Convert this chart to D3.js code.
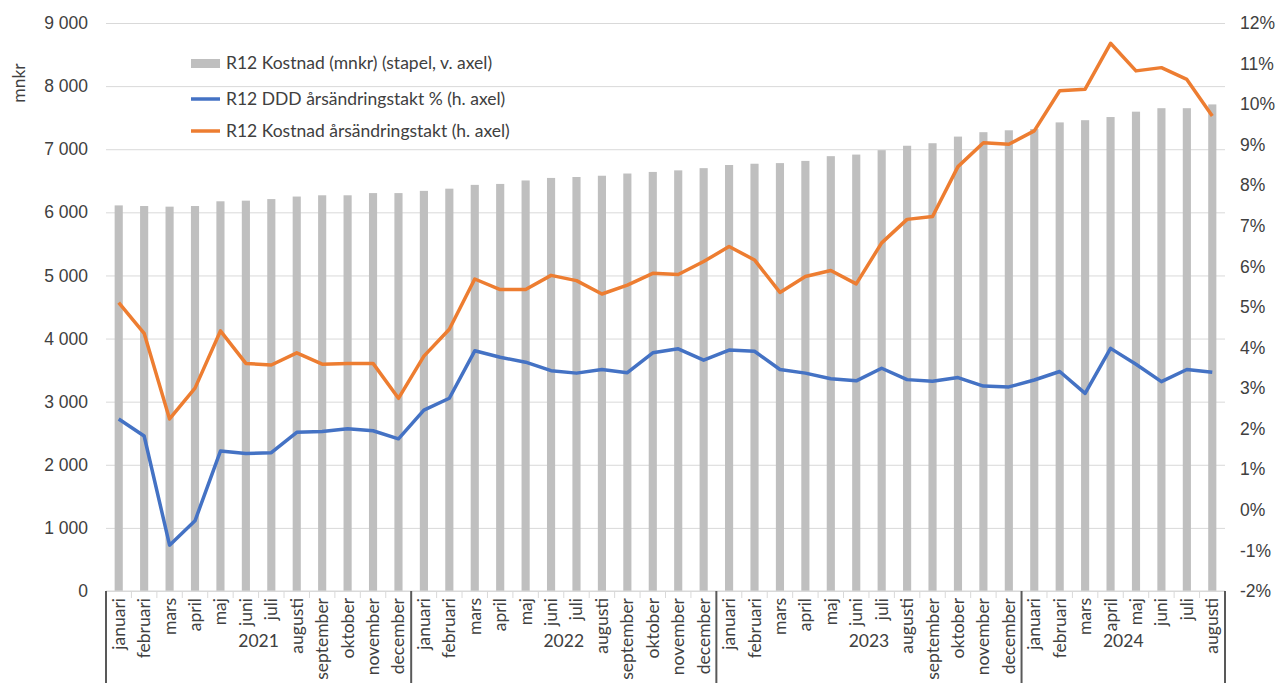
<!DOCTYPE html>
<html>
<head>
<meta charset="utf-8">
<script src="https://cdn.jsdelivr.net/npm/d3@7"></script>
<style>
  body { margin: 0; background: #fff; }
  svg { display: block; font-family: Lato, "Open Sans", sans-serif; }
</style>
</head>
<body>
<div id="chart"></div>
<script>
// data
const years = ["2021", "2022", "2023", "2024"];
const monthNames = ["januari", "februari", "mars", "april", "maj", "juni", "juli", "augusti",
  "september", "oktober", "november", "december"];
const monthsPerYear = [12, 12, 12, 8];

const kostnad = [6110, 6100, 6090, 6100, 6175, 6185, 6210, 6250, 6270, 6270, 6305, 6305,
  6340, 6375, 6435, 6450, 6505, 6545, 6560, 6580, 6615, 6640, 6665, 6700,
  6750, 6770, 6780, 6815, 6890, 6915, 6985, 7055, 7095, 7200, 7270, 7300,
  7320, 7425, 7460, 7510, 7595, 7650, 7650, 7710];

const dddTakt = [2.24, 1.82, -0.87, -0.27, 1.45, 1.39, 1.41, 1.91, 1.93, 2.0, 1.95, 1.75,
  2.46, 2.75, 3.92, 3.76, 3.64, 3.43, 3.37, 3.46, 3.38, 3.87, 3.97, 3.69,
  3.94, 3.91, 3.46, 3.37, 3.23, 3.18, 3.49, 3.21, 3.17, 3.26, 3.05, 3.03,
  3.2, 3.41, 2.87, 3.98, 3.59, 3.16, 3.46, 3.39];

const kostnadTakt = [5.11, 4.35, 2.24, 3.0, 4.41, 3.61, 3.57, 3.87, 3.59, 3.61, 3.61, 2.75,
  3.79, 4.45, 5.69, 5.43, 5.43, 5.78, 5.65, 5.32, 5.54, 5.83, 5.8, 6.12,
  6.49, 6.16, 5.36, 5.75, 5.9, 5.57, 6.58, 7.16, 7.23, 8.46, 9.05, 9.01,
  9.34, 10.33, 10.37, 11.5, 10.82, 10.9, 10.61, 9.71];

const leftTicks = [0, 1000, 2000, 3000, 4000, 5000, 6000, 7000, 8000, 9000];
const rightTicks = [-2, -1, 0, 1, 2, 3, 4, 5, 6, 7, 8, 9, 10, 11, 12];

const legendLabels = ["R12 Kostnad (mnkr) (stapel, v. axel)",
  "R12 DDD årsändringstakt % (h. axel)",
  "R12 Kostnad årsändringstakt (h. axel)"];

// build month list
const months = [];
years.forEach((yr, yi) => {
  for (let m = 0; m < monthsPerYear[yi]; m++) {
    months.push({ key: yr + "-" + m, year: yr, label: monthNames[m], i: months.length });
  }
});
months.forEach((d, i) => {
  d.kostnad = kostnad[i];
  d.ddd = dddTakt[i];
  d.ktakt = kostnadTakt[i];
});

const W = 1276, H = 683;
const margin = { top: 23, right: 51, bottom: 92, left: 106 };
const width = W - margin.left - margin.right;
const height = H - margin.top - margin.bottom;

const txtColor = "#404040";
const gridColor = "#d9d9d9";
const fs = "17.5px";

const svg = d3.select("#chart")
  .append("svg")
  .attr("width", W)
  .attr("height", H);

const g = svg.append("g")
  .attr("transform", `translate(${margin.left},${margin.top})`);

const x = d3.scaleBand()
  .domain(months.map(d => d.key))
  .range([0, width])
  .paddingInner(0.68)
  .paddingOuter(0.34);

const y = d3.scaleLinear()
  .domain([0, 9000])
  .range([height, 0]);

const y2 = d3.scaleLinear()
  .domain([-2, 12])
  .range([height, 0]);

const fmtLeft = v => d3.format(",")(v).replace(/,/g, " ");

// gridlines + left axis
const yAxis = g.append("g")
  .call(d3.axisLeft(y).tickValues(leftTicks).tickSize(-width).tickFormat(fmtLeft).tickPadding(18));
yAxis.select(".domain").remove();
yAxis.selectAll(".tick line").attr("stroke", gridColor);
yAxis.selectAll(".tick text")
  .attr("fill", txtColor)
  .style("font-size", fs);

// right axis
const yAxis2 = g.append("g")
  .attr("transform", `translate(${width},0)`)
  .call(d3.axisRight(y2).tickValues(rightTicks).tickSize(0).tickFormat(d => d + "%").tickPadding(15));
yAxis2.select(".domain").remove();
yAxis2.selectAll(".tick text")
  .attr("fill", txtColor)
  .style("font-size", fs);

// axis title
svg.append("text")
  .attr("transform", "rotate(-90)")
  .attr("x", -83)
  .attr("y", 25)
  .attr("text-anchor", "middle")
  .attr("fill", txtColor)
  .style("font-size", fs)
  .text("mnkr");

// bars
g.selectAll(".bar")
  .data(months)
  .enter().append("rect")
  .attr("class", "bar")
  .attr("x", d => x(d.key))
  .attr("y", d => y(d.kostnad))
  .attr("width", x.bandwidth())
  .attr("height", d => height - y(d.kostnad))
  .attr("fill", "#bfbfbf");

// lines
const step = x.step();
const cx = d => x(d.key) + x.bandwidth() / 2;

const lineDdd = d3.line().x(cx).y(d => y2(d.ddd));
const lineKt = d3.line().x(cx).y(d => y2(d.ktakt));

g.append("path")
  .datum(months)
  .attr("fill", "none")
  .attr("stroke", "#4472c4")
  .attr("stroke-width", 3.5)
  .attr("stroke-linejoin", "round")
  .attr("d", lineDdd);

g.append("path")
  .datum(months)
  .attr("fill", "none")
  .attr("stroke", "#ed7d31")
  .attr("stroke-width", 3.5)
  .attr("stroke-linejoin", "round")
  .attr("d", lineKt);

// x axis: month ticks, labels, year groups
const xa = g.append("g").attr("transform", `translate(0,${height})`);

xa.append("line")
  .attr("x1", 0).attr("x2", width)
  .attr("y1", 0).attr("y2", 0)
  .attr("stroke", gridColor);

xa.selectAll(".mtick")
  .data(months.slice(1))
  .enter().append("line")
  .attr("x1", d => x(d.key) - (step - x.bandwidth()) / 2)
  .attr("x2", d => x(d.key) - (step - x.bandwidth()) / 2)
  .attr("y1", 0).attr("y2", 7)
  .attr("stroke", gridColor);

xa.selectAll(".mlabel")
  .data(months)
  .enter().append("text")
  .attr("transform", d => `translate(${cx(d) + 6},7) rotate(-90)`)
  .attr("text-anchor", "end")
  .attr("fill", txtColor)
  .style("font-size", fs)
  .text(d => d.label);

// year separators and labels
const yearInfo = years.map(yr => {
  const ms = months.filter(d => d.year === yr);
  const x0 = x(ms[0].key) - (step - x.bandwidth()) / 2;
  const x1 = x(ms[ms.length - 1].key) + x.bandwidth() + (step - x.bandwidth()) / 2;
  return { year: yr, x0, x1 };
});

const seps = [yearInfo[0].x0].concat(yearInfo.map(d => d.x1));
xa.selectAll(".ysep")
  .data(seps)
  .enter().append("line")
  .attr("x1", d => d).attr("x2", d => d)
  .attr("y1", 0).attr("y2", 92)
  .attr("stroke", "#595959")
  .attr("stroke-width", 2);

xa.selectAll(".ylabel")
  .data(yearInfo)
  .enter().append("text")
  .attr("x", d => (d.x0 + d.x1) / 2)
  .attr("y", 56)
  .attr("text-anchor", "middle")
  .attr("fill", txtColor)
  .style("font-size", fs)
  .text(d => d.year);

// legend
const legend = svg.append("g").attr("transform", "translate(191,0)");
const legendY = [63, 99, 131];
const legendColors = ["#bfbfbf", "#4472c4", "#ed7d31"];

legendLabels.forEach((lab, i) => {
  const row = legend.append("g").attr("transform", `translate(0,${legendY[i]})`);
  if (i === 0) {
    row.append("rect")
      .attr("x", 0).attr("y", -4)
      .attr("width", 29).attr("height", 9)
      .attr("fill", legendColors[i]);
  } else {
    row.append("line")
      .attr("x1", 0).attr("x2", 29)
      .attr("y1", 0).attr("y2", 0)
      .attr("stroke", legendColors[i])
      .attr("stroke-width", 3.5);
  }
  row.append("text")
    .attr("x", 35)
    .attr("y", 0)
    .attr("dy", "0.35em")
    .attr("fill", txtColor)
    .style("font-size", fs)
    .text(lab);
});
</script>
</body>
</html>
